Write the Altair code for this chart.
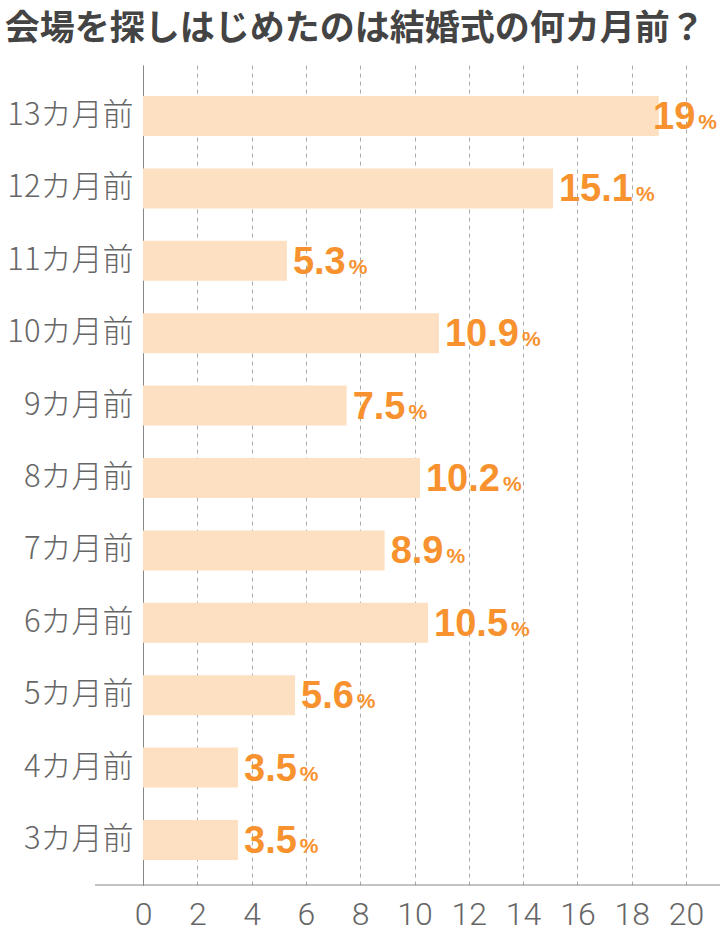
import altair as alt
import pandas as pd

categories = ["13カ月前", "12カ月前", "11カ月前", "10カ月前", "9カ月前", "8カ月前",
              "7カ月前", "6カ月前", "5カ月前", "4カ月前", "3カ月前"]
values = [19, 15.1, 5.3, 10.9, 7.5, 10.2, 8.9, 10.5, 5.6, 3.5, 3.5]
tick_values = [0, 2, 4, 6, 8, 10, 12, 14, 16, 18, 20]
title_text = "会場を探しはじめたのは結婚式の何カ月前？"

df = pd.DataFrame({"cat": categories, "v": values, "label": [f"{v:g}" for v in values]})

W, H = 543, 820
PX = W / 20.0
NUM_FS = 38
PCT_FS = 21
RIGHT_LIMIT = 574

BAR = "#FDDFC1"
ORANGE = "#F7922F"
GRAY = "#666666"

y_enc = alt.Y("cat:N", sort=categories,
              scale=alt.Scale(paddingInner=0, paddingOuter=0.163, align=0.627),
              axis=alt.Axis(title=None, ticks=False, domain=True, domainColor="#888888",
                            domainWidth=1, labelFont="Noto Sans CJK JP", labelFontSize=31,
                            labelFontWeight=300,
                            labelColor=GRAY, labelPadding=10, grid=False))
x_scale = alt.Scale(domain=[0, 20], nice=False, zero=True)

base = alt.Chart(df).transform_calculate(
    hasdot="indexof(datum.label, '.') >= 0 ? 1 : 0"
).transform_calculate(
    nw=f"((length(datum.label) - datum.hasdot) * 0.556 + datum.hasdot * 0.278) * {NUM_FS}"
).transform_calculate(
    start=f"min(datum.v * {PX} + 6, {RIGHT_LIMIT} - datum.nw - 3 - {PCT_FS * 0.889})"
).transform_calculate(
    num_x=f"datum.start / {PX}",
    pct_x=f"(datum.start + datum.nw + 3) / {PX}",
)

bars = base.mark_bar(size=40, color=BAR).encode(
    x=alt.X("v:Q", scale=x_scale,
            axis=alt.Axis(title=None, values=tick_values, grid=True, gridDash=[4, 4],
                          gridColor="#aaaaaa", gridWidth=1, domain=False, ticks=False,
                          labelFont="Roboto", labelFontWeight=300, labelFontSize=32,
                          labelColor=GRAY, labelPadding=14, labelFlush=False,
                          labelOverlap=False)),
    y=y_enc,
)

nums = base.mark_text(align="left", baseline="alphabetic", dy=13,
                      font="Liberation Sans", fontWeight="bold",
                      fontSize=NUM_FS, color=ORANGE).encode(
    x=alt.X("num_x:Q", scale=x_scale),
    y=alt.Y("cat:N", sort=categories),
    text="label:N",
)

pcts = base.mark_text(align="left", baseline="alphabetic", dy=13,
                      font="Liberation Sans", fontWeight="bold",
                      fontSize=PCT_FS, color=ORANGE).encode(
    x=alt.X("pct_x:Q", scale=x_scale),
    y=alt.Y("cat:N", sort=categories),
    text=alt.value("%"),
)

bottom_line = alt.Chart(alt.Data(values=[{}])).mark_rule(color="#888888", strokeWidth=1).encode(
    x=alt.value(-48), x2=alt.value(577), y=alt.value(H)
)

chart = alt.layer(bars, nums, pcts, bottom_line).properties(
    width=W, height=H,
    autosize="none",
    padding={"left": 143, "top": 65, "right": 34, "bottom": 48},
    title=alt.TitleParams(title_text, anchor="start", frame="bounds", offset=18, dx=-2,
                          font="Noto Sans CJK JP", fontWeight="bold", fontSize=35,
                          color="#444444"),
).configure_view(stroke=None)

chart.save("out.html", embed_options={"renderer": "svg", "actions": False})
